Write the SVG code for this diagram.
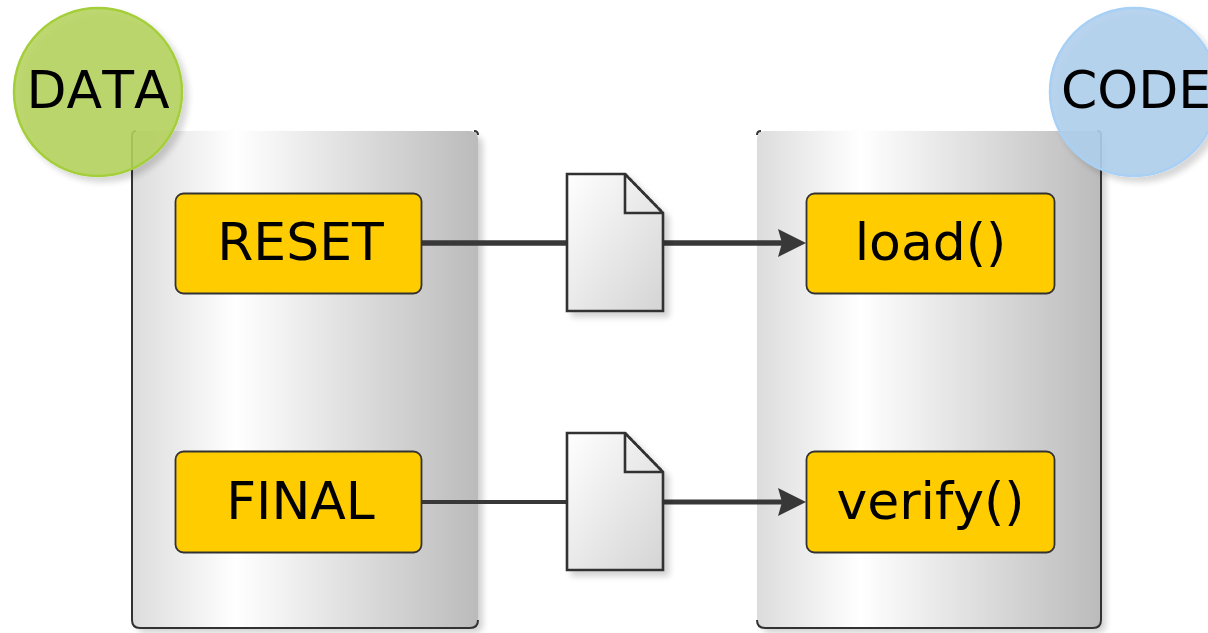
<svg xmlns="http://www.w3.org/2000/svg" width="1208" height="633" viewBox="0 0 1208 633">
<style>
.panel{fill:url(#pg);stroke:none}
.edge{fill:none;stroke:#333;stroke-width:2}
.box{fill:#ffcc00;stroke:#333;stroke-width:1.8}
.doc{fill:url(#dg);stroke:#333;stroke-width:2.6;stroke-linejoin:miter}
.fold{fill:none;stroke:#333;stroke-width:2.6}
.conn{fill:none;stroke:#383838}
.head{fill:#383838}
.label{font-family:"DejaVu Sans",sans-serif;font-size:52px;font-kerning:none;fill:#000;text-anchor:middle}
</style>
<defs>
<linearGradient id="pg" x1="0" x2="1" y1="0" y2="0">
<stop offset="0" stop-color="#dcdcdc"/><stop offset="0.3" stop-color="#ffffff"/><stop offset="1" stop-color="#bbbbbb"/>
</linearGradient>
<linearGradient id="dg" x1="0" x2="1" y1="0" y2="1">
<stop offset="0" stop-color="#ffffff"/><stop offset="1" stop-color="#d4d4d4"/>
</linearGradient>
<filter id="sh" x="-10%" y="-10%" width="125%" height="125%"><feGaussianBlur in="SourceAlpha" stdDeviation="3"/><feOffset dx="5" dy="5"/><feComponentTransfer><feFuncA type="linear" slope="0.18"/></feComponentTransfer><feMerge><feMergeNode/><feMergeNode in="SourceGraphic"/></feMerge></filter>
<filter id="soft" x="-5%" y="-5%" width="110%" height="110%"><feGaussianBlur stdDeviation="0.6"/></filter>
</defs>
<g filter="url(#soft)">
<g id="panel-data"><rect class="panel" x="132" y="131" width="346" height="497" rx="8" filter="url(#sh)"/><path class="edge" d="M132 136q0-5 4-5M132 136V620q0 8 8 8H470q8 0 8-8M474 131q4 0 4 4"/></g>
<g id="panel-code"><rect class="panel" x="757" y="131" width="344" height="497" rx="8" filter="url(#sh)"/><path class="edge" d="M757 135q0-4 4-4M757 620q0 8 8 8H1093q8 0 8-8V135q0-4-4-4"/></g>
<g id="actor-data"><circle cx="98" cy="92" r="84" fill="#b5d35f" fill-opacity="0.88" stroke="#a4cf3b" stroke-width="2.5" filter="url(#sh)"/><text class="label" x="98" y="108">DATA</text></g>
<g id="actor-code"><circle cx="1134" cy="92" r="84" fill="#b0cfec" fill-opacity="0.9" stroke="#a8d0f5" stroke-width="2.5" filter="url(#sh)"/><text class="label" x="1136" y="108">CODE</text></g>
<g id="connectors">
<path class="conn" stroke-width="5.500" d="M422 243H567M663 243H785"/><path class="head" d="M778 229L806 243L778 257L782 243Z"/>
<path class="conn" stroke-width="4" d="M422 502H567"/><path class="conn" stroke-width="5" d="M663 502H785"/><path class="head" d="M778 488L806 502L778 516L782 502Z"/>
</g>
<g id="reset"><rect class="box" x="175.500" y="193.500" width="246" height="100" rx="8"/><text class="label" x="300.500" y="260">RESET</text></g>
<g id="final"><rect class="box" x="175.500" y="451.500" width="246" height="101" rx="8"/><text class="label" x="300.500" y="519">FINAL</text></g>
<g id="load"><rect class="box" x="806.500" y="193.500" width="248" height="100" rx="8"/><text class="label" x="930.500" y="260">load()</text></g>
<g id="verify"><rect class="box" x="806.500" y="451.500" width="248" height="101" rx="8"/><text class="label" x="930.500" y="519">verify()</text></g>
<g id="doc-1"><path class="doc" filter="url(#sh)" d="M567 174H625L663 213V311H567Z"/><path class="fold" d="M625 174V213H663"/><path d="M625 174L663 213" fill="none" stroke="#333" stroke-width="2.600" stroke-dasharray="4 2"/></g>
<g id="doc-2"><path class="doc" filter="url(#sh)" d="M567 433H625L663 472V570H567Z"/><path class="fold" d="M625 433V472H663"/><path d="M625 433L663 472" fill="none" stroke="#333" stroke-width="2.600" stroke-dasharray="4 2"/></g>
</g>
</svg>
